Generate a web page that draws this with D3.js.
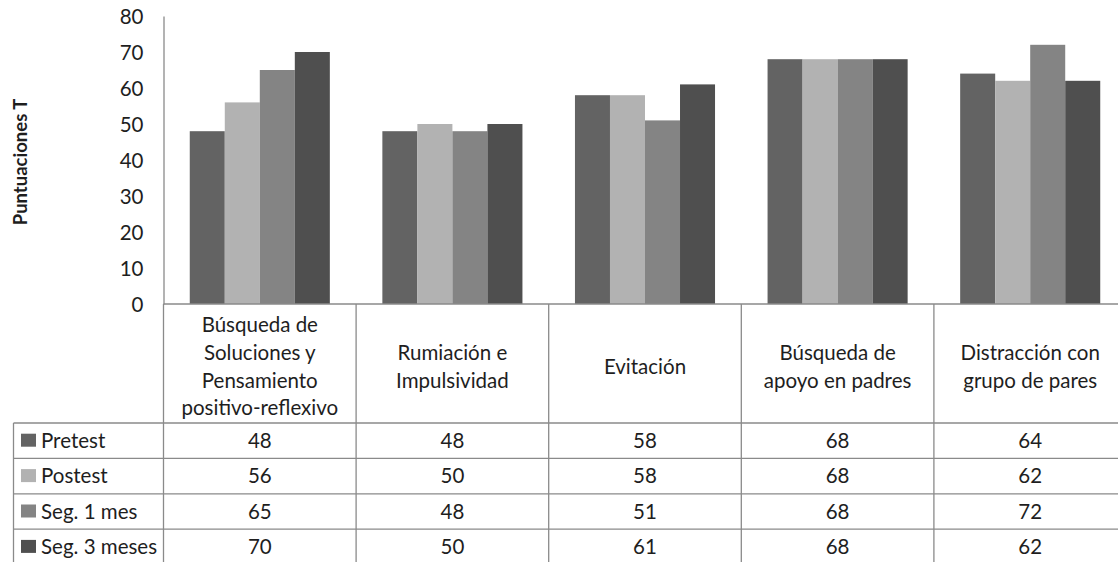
<!DOCTYPE html>
<html>
<head>
<meta charset="utf-8">
<script src="https://cdn.jsdelivr.net/npm/d3@7"></script>
<style>
  html, body { margin: 0; padding: 0; background: #fff; }
  svg text { font-family: Lato, "Open Sans", sans-serif; fill: #1e1e1e; }
</style>
</head>
<body>
<svg id="chart" width="1118" height="562"></svg>
<script>
// Categories (header cells, one per column group)
const categories = [
  ["Búsqueda de", "Soluciones y", "Pensamiento", "positivo-reflexivo"],
  ["Rumiación e", "Impulsividad"],
  ["Evitación"],
  ["Búsqueda de", "apoyo en padres"],
  ["Distracción con", "grupo de pares"]
];
const categoryKeys = ["c1", "c2", "c3", "c4", "c5"];

// Series
const seriesNames = ["Pretest", "Postest", "Seg. 1 mes", "Seg. 3 meses"];
const pretest    = [48, 48, 58, 68, 64];
const postest    = [56, 50, 58, 68, 62];
const seg1mes    = [65, 48, 51, 68, 72];
const seg3meses  = [70, 50, 61, 68, 62];
const seriesValues = [pretest, postest, seg1mes, seg3meses];
const seriesColors = ["#636363", "#b2b2b2", "#848484", "#4f4f4f"];

// Axis
const yTicks = [0, 10, 20, 30, 40, 50, 60, 70, 80];
const yTitle = "Puntuaciones T";

const svg = d3.select("#chart");
const gridColor = "#8a8a8a";
const fs = 20.5;

const plotLeft = 163.5, plotRight = 1126.5, plotTop = 16, plotBottom = 304;
const headerBottom = 423, rowH = 35.4, tableLeft = 13.5;

const x = d3.scaleBand().domain(categoryKeys).range([plotLeft, plotRight]).padding(0);
// Excel-style gap width of 150% of one bar
const barW = x.bandwidth() / (seriesNames.length + 1.5);
const xs = d3.scaleBand().domain(d3.range(seriesNames.length))
  .range([barW * 0.75, barW * 0.75 + barW * seriesNames.length]).padding(0);
const y = d3.scaleLinear().domain([0, 80]).range([plotBottom, plotTop]);

// Bars
const groups = svg.append("g").selectAll("g")
  .data(categoryKeys)
  .join("g")
  .attr("transform", d => `translate(${x(d)},0)`);

groups.selectAll("rect")
  .data((d, ci) => seriesValues.map((vals, si) => ({ si, v: vals[ci] })))
  .join("rect")
  .attr("x", d => xs(d.si))
  .attr("width", xs.bandwidth())
  .attr("y", d => y(d.v))
  .attr("height", d => y(0) - y(d.v))
  .attr("fill", d => seriesColors[d.si]);

// Y axis
const yAxis = d3.axisLeft(y).tickValues(yTicks).tickSize(0).tickPadding(20);
const gy = svg.append("g").attr("transform", `translate(${plotLeft},0)`).call(yAxis);
gy.select(".domain").attr("stroke", gridColor).attr("stroke-width", 1.3);
gy.selectAll("text").attr("font-size", fs).attr("font-family", "Lato, sans-serif").attr("fill", "#1e1e1e").attr("dy", "0.36em");

// Y title
svg.append("text")
  .attr("transform", `translate(20,${(plotTop + plotBottom) / 2 + 2}) rotate(-90)`)
  .attr("text-anchor", "middle")
  .attr("dy", "0.36em")
  .attr("font-size", 18.5)
  .attr("font-weight", "bold")
  .text(yTitle);

// Table lines
const lines = svg.append("g").attr("stroke", gridColor).attr("stroke-width", 1.3);
const nRows = seriesNames.length;
const tableBottom = headerBottom + rowH * nRows;
// x axis / header top
lines.append("line").attr("x1", plotLeft).attr("x2", plotRight).attr("y1", plotBottom).attr("y2", plotBottom);
// category dividers
const divs = categoryKeys.map(k => x(k)).concat([plotRight]);
lines.selectAll("line.div").data(divs).join("line").attr("class", "div")
  .attr("x1", d => d).attr("x2", d => d).attr("y1", plotBottom).attr("y2", tableBottom);
// row lines
lines.selectAll("line.row").data(d3.range(nRows + 1)).join("line").attr("class", "row")
  .attr("x1", tableLeft).attr("x2", plotRight)
  .attr("y1", i => headerBottom + i * rowH).attr("y2", i => headerBottom + i * rowH);
// legend column left edge
lines.append("line").attr("x1", tableLeft).attr("x2", tableLeft).attr("y1", headerBottom).attr("y2", tableBottom);

// Category header labels
const lineH = 27.8;
const headerMid = 366.5;
svg.append("g").selectAll("text")
  .data(categories)
  .join("text")
  .attr("text-anchor", "middle")
  .attr("font-size", fs)
  .each(function (lbls, i) {
    const cx = x(categoryKeys[i]) + x.bandwidth() / 2;
    const y0 = headerMid - (lbls.length - 1) * lineH / 2;
    d3.select(this).selectAll("tspan").data(lbls).join("tspan")
      .attr("x", cx)
      .attr("y", (d, j) => y0 + j * lineH)
      .attr("dy", "0.35em")
      .text(d => d);
  });

// Legend keys and names in first column
const rows = svg.append("g").selectAll("g")
  .data(seriesNames)
  .join("g")
  .attr("transform", (d, i) => `translate(0,${headerBottom + i * rowH + rowH / 2})`);
rows.append("rect")
  .attr("x", 21).attr("y", -7).attr("width", 15).attr("height", 13)
  .attr("fill", (d, i) => seriesColors[i]);
rows.append("text")
  .attr("x", 41).attr("dy", "0.35em")
  .attr("font-size", fs)
  .text(d => d);

// Value cells
rows.each(function (name, si) {
  d3.select(this).selectAll("text.val")
    .data(seriesValues[si])
    .join("text")
    .attr("class", "val")
    .attr("x", (v, ci) => x(categoryKeys[ci]) + x.bandwidth() / 2)
    .attr("dy", "0.35em")
    .attr("text-anchor", "middle")
    .attr("font-size", fs)
    .text(v => v);
});
</script>
</body>
</html>
